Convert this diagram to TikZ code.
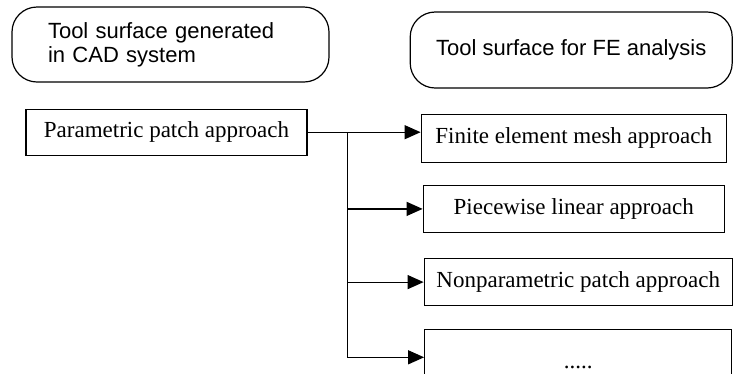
\documentclass[tikz,border=0pt]{standalone}
\usepackage{fontspec}
\setmainfont{Liberation Serif}
\setsansfont{Liberation Sans}
\usetikzlibrary{positioning}
\usetikzlibrary{arrows.meta}

\begin{document}
\begin{tikzpicture}
            \tikzstyle{cad_node}=[rectangle, draw, rounded corners=25pt, line width=1.2pt, inner sep=0pt, font=\sffamily\fontsize{22}{24}\selectfont];
            \tikzstyle{fe_node}=[rectangle, draw, line width=1.2pt, inner sep=0pt, font=\fontsize{23}{25}\selectfont];

            \useasboundingbox (0pt,0pt) rectangle (733pt,-373pt);
            \clip (0pt,0pt) rectangle (733pt,-373pt);

            % Headings
            \node(cad) [cad_node, minimum width=317pt, minimum height=75pt, text width=245pt, align=left] at (170.5pt,-44.5pt) {Tool surface generated\\in CAD system};
            \node(fe_label) [cad_node, minimum width=322pt, minimum height=76pt, right = 80pt of cad, yshift=-5.5pt] {Tool surface for FE analysis};

            % Source
            \node(param) [fe_node, minimum width=281pt, minimum height=46pt, below = 26pt of cad, xshift=-4pt] {Parametric patch approach};

            % Targets
            \node(mesh) [fe_node, minimum width=305pt, minimum height=48pt, right = 113pt of param, yshift=-6pt] {Finite element mesh approach};
            \node(piece) [fe_node, minimum width=301pt, minimum height=47pt, below = 22pt of mesh] {Piecewise linear approach};
            \node(nonpar) [fe_node, minimum width=308pt, minimum height=47pt, below = 25pt of piece, xshift=4.5pt] {Nonparametric patch approach};
            \node(more) [fe_node, minimum width=307pt, minimum height=55pt, below = 23pt of nonpar, text height=22pt, text depth=0pt] {.....};

            % Connectors
            \tikzstyle{arrow}=[-{Triangle[length=16pt, width=14pt]}, line width=1.2pt];
            \coordinate[right = 40pt of param.east] (split);
            \draw[arrow] (param.east) -- (param.east -| mesh.west);
            \draw[arrow] (split) |- (more.west);
            \draw[arrow] (split |- piece.west) -- (piece.west);
            \draw[arrow] (split |- nonpar.west) -- (nonpar.west);
        \end{tikzpicture}
\end{document}
